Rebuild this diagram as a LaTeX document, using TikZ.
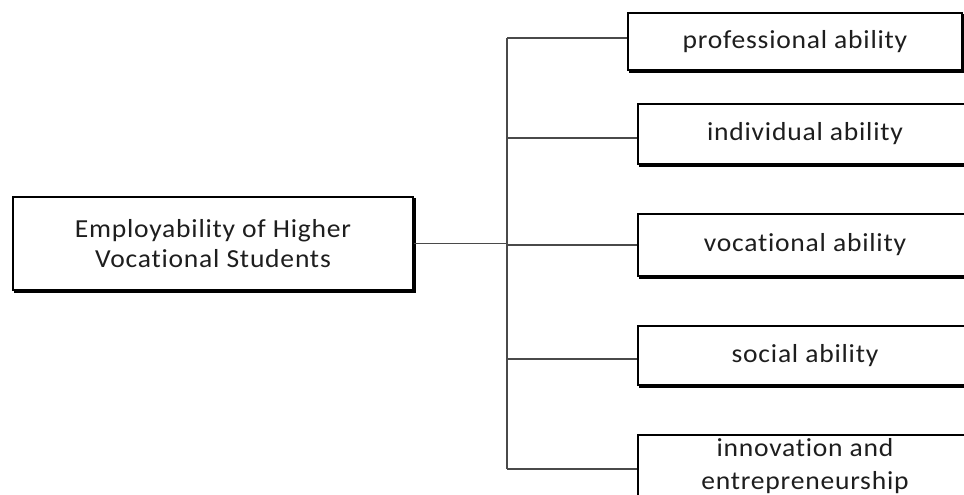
\documentclass[tikz,border=0pt]{standalone}
\usepackage{fontspec}
\setmainfont{Carlito}[FakeStretch=1.06,LetterSpace=3,Ligatures=NoCommon]
\usetikzlibrary{backgrounds}
\definecolor{txt}{HTML}{1E1E1E}
\definecolor{conn}{HTML}{4A4A4A}
\begin{document}
\begin{tikzpicture}[x=1pt,y=-1pt,
  abox/.style={draw=black, line width=2pt, fill=white, text=txt,
    inner sep=0pt, align=center,
    font=\fontsize{26}{30}\selectfont},
  link/.style={draw=conn, line width=1.4pt}]
\useasboundingbox (0,0) rectangle (964,495);
\clip (0,0) rectangle (964,495);
\node[abox, minimum width=400pt, minimum height=93pt] (root) at (213,243.5)
  {Employability of Higher\\Vocational Students};
\node[abox, minimum width=334pt, minimum height=57pt] (b1) at (795,41.5) {professional ability};
\node[abox, minimum width=334pt, minimum height=60pt] (b2) at (805,134) {individual ability};
\node[abox, minimum width=334pt, minimum height=62pt] (b3) at (805,245) {vocational ability};
\node[abox, minimum width=334pt, minimum height=59pt] (b4) at (805,355.5) {social ability};
\node[abox, minimum width=334pt, minimum height=62pt, font=\fontsize{26}{33}\selectfont] (b5) at (805,466)
  {innovation and\\entrepreneurship};
\begin{scope}[on background layer]
  \foreach \n in {root,b1,b2,b3,b4,b5}
    \fill[black] ([shift={(2,2)}]\n.north west) rectangle ([shift={(2,2)}]\n.south east);
\end{scope}
\coordinate (t1) at (507,38);
\coordinate (t2) at (507,138);
\coordinate (t3) at (507,245);
\coordinate (t4) at (507,359);
\coordinate (t5) at (507,469);
\draw[link] (t1) -- (t5);
\draw[link] (t1) -- (t1 -| b1.west);
\draw[link] (t2) -- (t2 -| b2.west);
\draw[link] (t3) -- (t3 -| b3.west);
\draw[link] (t4) -- (t4 -| b4.west);
\draw[link] (t5) -- (t5 -| b5.west);
\draw[link] (root.east) -- (root.east -| t3);
\end{tikzpicture}
\end{document}
